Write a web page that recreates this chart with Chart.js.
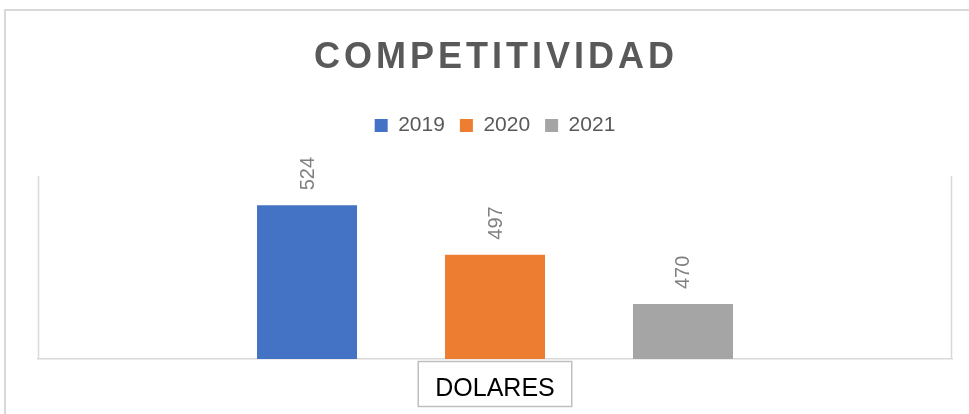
<!DOCTYPE html>
<html>
<head>
<meta charset="utf-8">
<script src="https://cdn.jsdelivr.net/npm/chart.js@4"></script>
<style>
    body { margin: 0; background: #ffffff; }
    #marco {
        position: absolute; left: 4px; top: 9px; width: 2000px; height: 2000px;
        border-left: 2px solid #d9d9d9; border-top: 2px solid #d9d9d9;
    }
    canvas { position: absolute; left: 0; top: 0; }
</style>
</head>
<body>
<div id="marco"></div>
<canvas id="myBarChart" width="969" height="414"></canvas>
<script>
// datos
const categorias = ['DOLARES'];
const anios = ['2019', '2020', '2021'];
const valores2019 = [524];
const valores2020 = [497];
const valores2021 = [470];
const colores = ['#4472C4', '#ED7D31', '#A5A5A5'];
const titulo = 'COMPETITIVIDAD';

// titulo con espaciado entre letras
const tituloPlugin = {
    id: 'tituloPlugin',
    afterDraw: (chart) => {
        const ctx = chart.ctx;
        const area = chart.chartArea;
        ctx.save();
        ctx.font = 'bold 36px "Liberation Sans"';
        ctx.fillStyle = '#595959';
        ctx.letterSpacing = '4px';
        ctx.textAlign = 'center';
        ctx.textBaseline = 'middle';
        ctx.fillText(titulo, (area.left + area.right) / 2 + 1, 58);
        ctx.restore();
    }
};

// espacio extra debajo de la leyenda
const leyendaEspacio = {
    id: 'leyendaEspacio',
    beforeInit: (chart) => {
        const fit = chart.legend.fit;
        chart.legend.fit = function () {
            fit.call(this);
            this.height = 76;
        };
    }
};

// marco del area, etiquetas rotadas y caja de la categoria
const etiquetas = {
    id: 'etiquetas',
    beforeDatasetsDraw: (chart) => {
        const ctx = chart.ctx;
        const a = chart.chartArea;
        ctx.save();
        ctx.strokeStyle = '#d9d9d9';
        ctx.lineWidth = 1.5;
        ctx.beginPath();
        ctx.moveTo(a.left + 0.5, a.top);
        ctx.lineTo(a.left + 0.5, a.bottom);
        ctx.moveTo(a.right - 0.5, a.top);
        ctx.lineTo(a.right - 0.5, a.bottom);
        ctx.stroke();
        ctx.restore();
    },
    afterDraw: (chart) => {
        const ctx = chart.ctx;
        ctx.save();
        ctx.font = '20px "Liberation Sans"';
        ctx.fillStyle = '#808080';
        ctx.textAlign = 'left';
        ctx.textBaseline = 'middle';
        chart.data.datasets.forEach((ds, i) => {
            chart.getDatasetMeta(i).data.forEach((bar, j) => {
                ctx.save();
                ctx.translate(bar.x, bar.y - 15);
                ctx.rotate(-Math.PI / 2);
                ctx.fillText(String(ds.data[j]), 0, 1);
                ctx.restore();
            });
        });
        ctx.restore();

        // etiqueta de la categoria dentro de una caja
        const x = chart.scales.x;
        const a = chart.chartArea;
        ctx.save();
        ctx.font = '25px "Liberation Sans"';
        ctx.fillStyle = '#000000';
        ctx.textAlign = 'center';
        ctx.textBaseline = 'middle';
        categorias.forEach((cat, i) => {
            const cx = x.getPixelForTick(i);
            const w = ctx.measureText(cat).width + 34;
            ctx.fillText(cat, cx, a.bottom + 30);
            ctx.strokeStyle = '#bfbfbf';
            ctx.lineWidth = 1.5;
            ctx.strokeRect(cx - w / 2, a.bottom + 2.5, w, 45);
        });
        ctx.restore();
    }
};

let plot = () => {
    const ctx = document.getElementById('myBarChart');

    const dataset = {
        labels: categorias,
        datasets: [
            { label: anios[0], data: valores2019, backgroundColor: colores[0] },
            { label: anios[1], data: valores2020, backgroundColor: colores[1] },
            { label: anios[2], data: valores2021, backgroundColor: colores[2] }
        ]
    };

    const config = {
        type: 'bar',
        data: dataset,
        options: {
            responsive: false,
            animation: false,
            categoryPercentage: 0.617,
            barPercentage: 0.532,
            layout: { padding: { left: 38, right: 17, top: 100, bottom: 55 } },
            plugins: {
                title: { display: false },
                tooltip: { enabled: false },
                legend: {
                    position: 'top',
                    labels: {
                        boxWidth: 13,
                        boxHeight: 13,
                        padding: 15,
                        color: '#595959',
                        font: { family: '"Liberation Sans"', size: 21 }
                    }
                }
            },
            scales: {
                x: {
                    grid: { display: false, drawTicks: false },
                    border: { display: true, color: '#d9d9d9', width: 1.5 },
                    ticks: { display: false }
                },
                y: {
                    display: false,
                    min: 440,
                    max: 540
                }
            }
        },
        plugins: [tituloPlugin, leyendaEspacio, etiquetas]
    };

    const chart = new Chart(ctx, config);
};

plot();
</script>
</body>
</html>
